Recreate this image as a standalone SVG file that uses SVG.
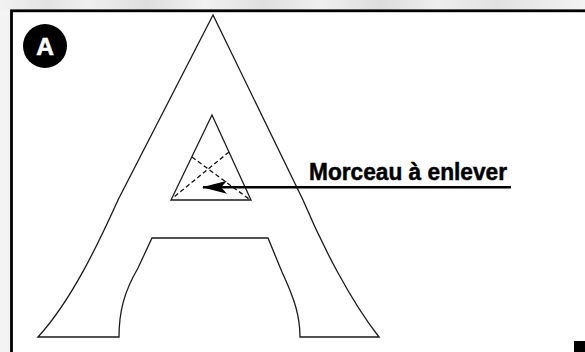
<svg xmlns="http://www.w3.org/2000/svg" width="585" height="352" viewBox="0 0 585 352">
  <style>
    .outline { fill: none; stroke: #1a1a1a; stroke-width: 1.3; stroke-linejoin: miter; }
    .dash { fill: none; stroke: #111; stroke-width: 1.3; stroke-dasharray: 4.5 2.8; }
    .label { font-family: "Liberation Sans", Arial, sans-serif; font-weight: bold; fill: #000; }
    .conn { stroke: #000; stroke-width: 2.5; fill: none; }
  </style>
  <defs>
    <linearGradient id="strip" x1="0" y1="0" x2="1" y2="0">
      <stop offset="0" stop-color="#f2f2f2"/>
      <stop offset="0.08" stop-color="#e2e2e2"/>
      <stop offset="0.15" stop-color="#f0f0f0"/>
      <stop offset="0.25" stop-color="#dedede"/>
      <stop offset="0.35" stop-color="#f1f1f1"/>
      <stop offset="0.45" stop-color="#e0e0e0"/>
      <stop offset="0.55" stop-color="#efefef"/>
      <stop offset="0.65" stop-color="#dddddd"/>
      <stop offset="0.75" stop-color="#eeeeee"/>
      <stop offset="0.85" stop-color="#e1e1e1"/>
      <stop offset="1" stop-color="#f3f3f3"/>
    </linearGradient>
    <marker id="head" viewBox="0 0 25 13" refX="24" refY="6.5" markerWidth="25" markerHeight="13" markerUnits="userSpaceOnUse" orient="auto">
      <path d="M0,0 L25,6.5 L0,13 L6,6.5 Z" fill="#000"/>
    </marker>
  </defs>

  <!-- background -->
  <rect x="0" y="0" width="585" height="352" fill="#f3f3f3"/>
  <rect x="0" y="0" width="585" height="10" fill="url(#strip)"/>
  <rect x="11.5" y="10.8" width="580" height="350" fill="#ffffff" stroke="#000" stroke-width="2.8"/>

  <!-- badge A -->
  <g id="badge">
    <circle cx="45" cy="46" r="22" fill="#000"/>
    <text class="label" x="45" y="54.8" font-size="24.5" text-anchor="middle" style="fill:#fff;stroke:#fff;stroke-width:0.6">A</text>
  </g>

  <!-- big letter A outline -->
  <g id="letter-A">
    <path class="outline" d="M213,15 L118,200 C100,240 72,300 38,337 L119,337 C119,312 124,292 138,268 L152,238 L268,238 L282,272 C294,298 300,315 300,337 L379,337 C350,300 322,245 303,200 Z"/>
  </g>

  <!-- piece to remove -->
  <g id="piece">
    <path class="outline" d="M212,115 L171,200 L251,200 Z"/>
    <line class="dash" x1="192" y1="157" x2="249" y2="199"/>
    <line class="dash" x1="229" y1="152" x2="174" y2="197"/>
  </g>

  <!-- label -->
  <g id="label">
    <text class="label" x="309" y="179.5" font-size="24" textLength="198" lengthAdjust="spacingAndGlyphs" style="stroke:#000;stroke-width:0.5">Morceau à enlever</text>
  </g>

  <!-- connectors -->
  <g id="connectors">
    <line class="conn" x1="511" y1="187.3" x2="203" y2="187.3" marker-end="url(#head)"/>
  </g>

  <!-- corner mark -->
  <rect x="574" y="341" width="11" height="11" fill="#000"/>
</svg>
